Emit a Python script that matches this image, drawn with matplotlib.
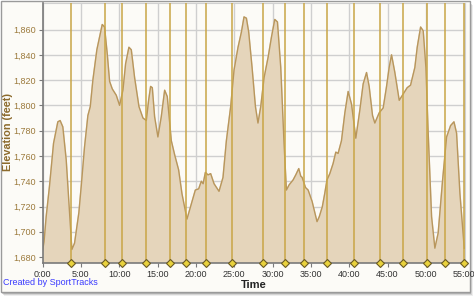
import matplotlib
matplotlib.use("Agg")
import matplotlib.pyplot as plt
from matplotlib.patches import Rectangle
from matplotlib.ticker import FuncFormatter, MultipleLocator

# elevation profile (minutes, feet)
minutes = [0.0, 0.2, 0.48, 0.91, 1.44, 2.0, 2.3, 2.65, 3.09, 3.52, 3.83, 4.18, 4.74,
           5.05, 5.48, 5.92, 6.23, 6.57, 7.09, 7.44, 7.79, 8.09, 8.44, 8.75, 9.1, 9.62,
           10.05, 10.49, 10.84, 11.27, 11.58, 12.01, 12.58, 13.1, 13.54, 13.84, 14.1,
           14.32, 14.62, 15.05, 15.49, 15.93, 16.27, 16.8, 17.23, 17.75, 18.19, 18.84,
           19.41, 19.93, 20.37, 20.71, 20.95, 21.24, 21.58, 21.93, 22.37, 23.02, 23.54,
           23.98, 24.54, 24.98, 25.5, 25.94, 26.28, 26.59, 26.89, 27.33, 27.77, 28.1,
           28.46, 28.9, 29.42, 29.86, 30.29, 30.64, 31.07, 31.5, 31.81, 32.15, 32.68,
           33.03, 33.42, 33.68, 33.86, 34.3, 34.64, 35.16, 35.4, 35.8, 36.1, 36.5, 36.8,
           37.1, 37.47, 37.9, 38.25, 38.55, 38.99, 39.43, 39.86, 40.3, 40.86, 41.38,
           41.82, 42.26, 42.6, 43.04, 43.34, 43.9, 44.43, 44.87, 45.21, 45.52, 45.95,
           46.52, 47.04, 47.56, 48.0, 48.56, 48.87, 49.31, 49.65, 50.0, 50.3, 50.74,
           51.17, 51.6, 52.18, 52.7, 53.22, 53.66, 54.0, 54.44, 55.0]
elevation = [1685, 1692, 1712, 1736, 1770, 1787, 1788, 1783, 1757, 1715, 1686, 1691, 1715,
             1736, 1767, 1792, 1799, 1820, 1844, 1854, 1864, 1862, 1841, 1819, 1813, 1808,
             1800, 1812, 1833, 1846, 1844, 1822, 1799, 1790, 1788, 1804, 1815,
             1814, 1791, 1775, 1791, 1812, 1807, 1772, 1761, 1749, 1730, 1710,
             1722, 1733, 1734, 1740, 1738, 1747, 1745, 1746, 1738, 1732, 1743,
             1772, 1799, 1828, 1846, 1858, 1870, 1869, 1858, 1830, 1799, 1786,
             1799, 1822, 1838, 1854, 1868, 1866, 1830, 1770, 1733, 1737, 1741,
             1745, 1750, 1744, 1743, 1735, 1733, 1724, 1718, 1708, 1712, 1720, 1730,
             1741, 1746, 1754, 1763, 1762, 1772, 1794, 1811, 1801, 1774, 1796,
             1817, 1826, 1815, 1792, 1786, 1794, 1798, 1815, 1830, 1840, 1826,
             1804, 1809, 1814, 1816, 1830, 1846, 1862, 1859, 1830, 1778, 1712,
             1687, 1699, 1741, 1775, 1784, 1787, 1778, 1730, 1687]

# lap markers (minutes)
laps = [3.66, 8.09, 10.31, 13.45, 16.58, 18.67, 21.28, 24.67, 28.72, 31.59,
        34.07, 37.08, 40.6, 43.99, 47.0, 50.13, 52.48, 54.96]

bg = "#fcfbf7"
W, H = 474, 296
fig = plt.figure(figsize=(W / 100, H / 100), dpi=100, facecolor="white")

# outer frame with a soft drop shadow
for i, a in enumerate([0.10, 0.18, 0.28]):
    off = 4 - i
    fig.add_artist(Rectangle(((off) / W, -off / H + 4 / H), 469 / W, 291 / H,
                             transform=fig.transFigure, facecolor="#606060",
                             edgecolor="none", alpha=a, zorder=0))
fig.add_artist(Rectangle((0.5 / W, 4.5 / H), 469 / W, 291 / H, transform=fig.transFigure,
                         facecolor=bg, edgecolor="#9a9a9a", linewidth=1, zorder=0))

ax = fig.add_axes([42.5 / W, 1 - 263 / H, 422.5 / W, 260 / H])
ax.set_facecolor(bg)

ax.fill_between(minutes, elevation, 1600, color="#e5d5bb", zorder=2)
ax.plot(minutes, elevation, color="#b8965c", linewidth=1.0, zorder=3)

for t in laps:
    ax.axvline(t, color="#c9a646", linewidth=1.1, zorder=4)
ax.plot(laps, [1675.3] * len(laps), linestyle="none", marker="D", markersize=4.5,
        markerfacecolor="#e9d23c", markeredgecolor="#6a5a22", markeredgewidth=0.8,
        zorder=6, clip_on=False)

ax.set_xlim(0, 55.1)
ax.set_ylim(1675.3, 1881)
ax.xaxis.set_major_locator(MultipleLocator(5))
ax.xaxis.set_major_formatter(FuncFormatter(lambda v, p: f"{int(v)}:00"))
ax.yaxis.set_major_formatter(FuncFormatter(lambda v, p: f"{int(v):,}"))
ax.set_yticks([v for v in range(1680, 1880, 20)])
ax.grid(True, color="#cfcfcf", linewidth=1.0, zorder=1)
ax.set_axisbelow(True)

for s in ["top", "right"]:
    ax.spines[s].set_color("#d0d0d0")
for s in ["left", "bottom"]:
    ax.spines[s].set_color("#7a7a7a")
    ax.spines[s].set_linewidth(1.2)
    ax.spines[s].set_zorder(5)

ax.tick_params(axis="y", labelsize=6.5, labelcolor="#9c7a3c", color="#7a7a7a",
               length=3, pad=2)
ax.tick_params(axis="x", labelsize=6.5, labelcolor="#333333", color="#7a7a7a",
               length=3, pad=2)
for lab in ax.get_xticklabels() + ax.get_yticklabels():
    lab.set_family("Liberation Sans")

fig.text(8.5 / W, 1 - 132 / H, "Elevation (feet)", rotation=90, ha="center", va="center",
         fontsize=7.8, fontweight="bold", color="#8c6a2c", family="Liberation Sans")
ax.set_xlabel("Time", fontsize=8, fontweight="bold", color="#222222",
              family="Liberation Sans", labelpad=1)

fig.text(3 / W, 1 - 287 / H, "Created by SportTracks", fontsize=6.5, color="#3a3aff",
         family="Liberation Sans", va="bottom")

fig.savefig("out.png", dpi=100, facecolor="white")
